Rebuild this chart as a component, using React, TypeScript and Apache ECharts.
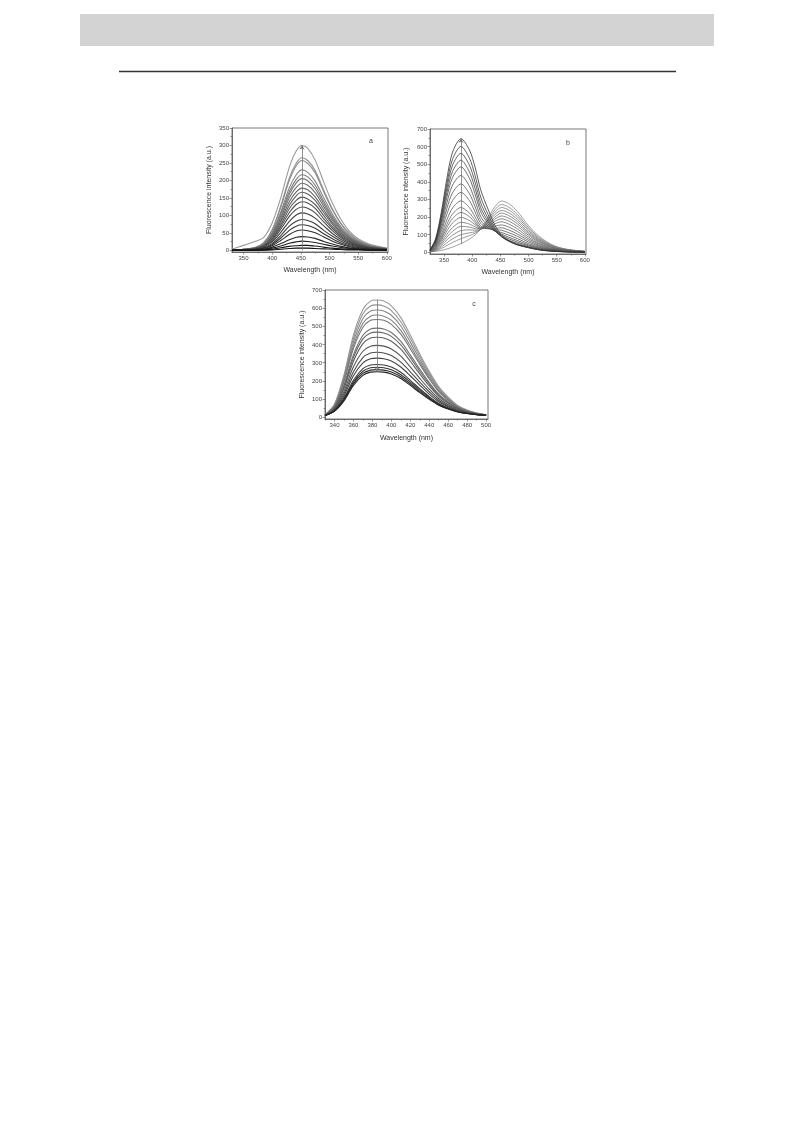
import React, { useEffect, useRef } from "react";
import * as echarts from "echarts";

const FONT = "'Liberation Sans', Arial, sans-serif";

// ---------- Panel a ----------
const aX = [330, 350, 370, 385, 400, 415, 430, 442, 452, 462, 475, 490, 505, 520, 535, 550, 570, 600];
const aCurves = [
  [3, 14, 25, 36, 78, 150, 238, 284, 300, 292, 258, 195, 135, 88, 54, 33, 17, 6],
  [1, 3, 8, 21, 58, 127, 207, 249, 265, 257, 228, 172, 119, 77, 48, 29, 15, 5],
  [1, 3, 8, 21, 57, 123, 200, 242, 257, 249, 221, 167, 116, 75, 46, 28, 14, 5],
  [1, 3, 7, 18, 51, 110, 179, 216, 230, 223, 198, 150, 104, 67, 41, 25, 13, 5],
  [1, 3, 6, 17, 48, 104, 168, 203, 216, 210, 186, 140, 97, 63, 39, 24, 12, 4],
  [1, 2, 6, 16, 45, 98, 160, 193, 205, 199, 176, 133, 92, 59, 37, 23, 11, 4],
  [1, 2, 6, 15, 42, 92, 150, 180, 192, 186, 165, 125, 86, 56, 35, 21, 11, 4],
  [1, 2, 5, 14, 39, 85, 139, 167, 178, 173, 153, 116, 80, 52, 32, 20, 10, 4],
  [1, 2, 5, 13, 37, 80, 129, 156, 166, 161, 143, 108, 75, 48, 30, 18, 9, 3],
  [1, 2, 5, 12, 33, 73, 119, 143, 152, 147, 131, 99, 68, 44, 27, 17, 8, 3],
  [1, 2, 4, 11, 31, 67, 108, 131, 139, 135, 120, 90, 63, 40, 25, 15, 8, 3],
  [1, 1, 4, 10, 27, 60, 97, 117, 124, 120, 107, 81, 56, 36, 22, 14, 7, 2],
  [1, 1, 3, 9, 24, 51, 83, 101, 107, 104, 92, 70, 48, 31, 19, 12, 6, 2],
  [0, 1, 3, 7, 19, 42, 69, 83, 88, 85, 76, 57, 40, 26, 16, 10, 5, 2],
  [0, 1, 2, 6, 16, 35, 57, 69, 73, 71, 63, 47, 33, 21, 13, 8, 4, 1],
  [0, 1, 2, 5, 13, 28, 45, 55, 58, 56, 50, 38, 26, 17, 10, 6, 3, 1],
  [0, 0, 1, 3, 9, 19, 30, 37, 39, 38, 34, 25, 18, 11, 7, 4, 2, 1],
  [0, 0, 1, 2, 6, 12, 20, 24, 26, 25, 22, 17, 12, 8, 5, 3, 1, 1],
  [0, 0, 0, 1, 3, 7, 11, 13, 14, 14, 12, 9, 6, 4, 3, 2, 1, 0],
  [0, 0, 0, 0, 1, 3, 5, 6, 6, 6, 5, 4, 3, 2, 1, 1, 0, 0],
];
const aXLabels = [350, 400, 450, 500, 550, 600];
const aXMinor = [375, 425, 475, 525, 575];
const aYLabels = [0, 50, 100, 150, 200, 250, 300, 350];
const aYMinor = [25, 75, 125, 175, 225, 275, 325];
const aArrow = [[452, 0], [452, 300]];

// ---------- Panel b ----------
const bX = [325, 335, 345, 355, 365, 380, 395, 405, 415, 428, 440, 452, 465, 480, 500, 520, 545, 570, 600];
const bCurves = [
  [2, 5, 10, 19, 29, 49, 74, 98, 131, 194, 257, 291, 276, 232, 151, 87, 38, 16, 6],
  [2, 8, 21, 38, 55, 77, 94, 108, 130, 184, 240, 271, 256, 215, 140, 81, 35, 15, 5],
  [3, 11, 29, 54, 76, 100, 110, 116, 130, 176, 226, 254, 240, 202, 131, 75, 33, 14, 5],
  [3, 14, 38, 70, 97, 123, 127, 125, 130, 169, 213, 237, 224, 188, 122, 70, 30, 13, 5],
  [4, 17, 46, 86, 119, 147, 143, 134, 131, 162, 200, 222, 208, 175, 113, 65, 28, 12, 4],
  [4, 20, 55, 102, 140, 170, 160, 144, 132, 155, 188, 206, 193, 162, 105, 60, 26, 11, 4],
  [5, 23, 65, 121, 166, 198, 181, 156, 135, 149, 175, 190, 177, 148, 96, 55, 24, 10, 4],
  [5, 27, 75, 140, 191, 226, 202, 168, 137, 142, 161, 173, 160, 133, 86, 49, 21, 9, 3],
  [6, 30, 86, 159, 217, 254, 223, 181, 141, 136, 148, 155, 143, 118, 76, 44, 18, 8, 3],
  [6, 35, 99, 184, 251, 292, 253, 201, 149, 133, 136, 139, 126, 104, 67, 38, 16, 7, 2],
  [7, 40, 117, 217, 294, 340, 293, 229, 164, 135, 128, 125, 111, 91, 58, 33, 14, 6, 2],
  [8, 46, 134, 249, 338, 388, 333, 259, 181, 140, 122, 112, 97, 78, 49, 28, 12, 5, 2],
  [9, 52, 151, 281, 381, 436, 375, 293, 203, 149, 120, 103, 85, 67, 42, 24, 10, 4, 1],
  [10, 58, 169, 313, 424, 485, 420, 331, 230, 163, 121, 96, 76, 58, 36, 20, 8, 3, 1],
  [11, 63, 182, 339, 459, 523, 456, 363, 253, 176, 122, 90, 68, 50, 31, 17, 7, 3, 1],
  [11, 67, 196, 364, 494, 562, 494, 398, 281, 193, 128, 88, 64, 45, 28, 15, 6, 2, 0],
  [12, 72, 210, 390, 528, 601, 534, 436, 313, 215, 138, 90, 62, 42, 26, 13, 5, 2, 0],
  [13, 77, 226, 419, 568, 645, 581, 484, 355, 245, 155, 97, 65, 42, 26, 13, 5, 2, 0],
];
const bXLabels = [350, 400, 450, 500, 550, 600];
const bXMinor = [375, 425, 475, 525, 575];
const bYLabels = [0, 100, 200, 300, 400, 500, 600, 700];
const bYMinor = [50, 150, 250, 350, 450, 550, 650];
const bArrow = [[380, 48], [380, 645]];

// ---------- Panel c ----------
const cX = [330, 340, 350, 360, 370, 378, 385, 392, 400, 410, 420, 430, 440, 450, 460, 470, 480, 490, 500];
const cCurves = [
  [13, 71, 232, 452, 593, 639, 645, 639, 613, 548, 452, 348, 252, 168, 110, 65, 39, 23, 13],
  [12, 68, 222, 433, 569, 612, 618, 612, 587, 525, 433, 334, 241, 161, 105, 62, 37, 22, 13],
  [12, 65, 212, 413, 543, 584, 590, 584, 561, 502, 413, 319, 230, 153, 100, 59, 36, 21, 13],
  [12, 62, 202, 393, 517, 556, 562, 556, 534, 478, 393, 303, 219, 146, 96, 57, 35, 21, 13],
  [11, 60, 194, 377, 495, 533, 538, 533, 511, 457, 377, 291, 210, 140, 92, 55, 34, 20, 12],
  [11, 55, 176, 343, 451, 485, 490, 485, 466, 417, 343, 265, 191, 127, 84, 51, 31, 19, 12],
  [11, 53, 168, 328, 431, 463, 468, 463, 445, 398, 328, 253, 183, 122, 80, 49, 30, 19, 12],
  [10, 50, 158, 308, 405, 436, 440, 436, 418, 374, 308, 238, 172, 115, 76, 46, 29, 18, 12],
  [10, 46, 142, 277, 363, 391, 395, 391, 375, 336, 277, 214, 154, 103, 68, 42, 27, 17, 12],
  [10, 42, 129, 250, 328, 353, 357, 353, 339, 303, 250, 193, 140, 93, 62, 38, 25, 16, 11],
  [10, 39, 117, 228, 299, 322, 325, 322, 309, 276, 228, 176, 127, 85, 57, 35, 23, 16, 11],
  [9, 36, 105, 203, 267, 287, 290, 287, 276, 247, 203, 157, 113, 76, 51, 32, 22, 15, 11],
  [9, 35, 99, 193, 253, 272, 275, 272, 261, 234, 193, 149, 108, 72, 49, 31, 21, 15, 11],
  [9, 34, 95, 184, 241, 259, 262, 259, 249, 223, 184, 142, 103, 69, 47, 30, 20, 14, 11],
  [9, 33, 90, 175, 230, 248, 250, 248, 238, 213, 175, 135, 98, 66, 45, 29, 20, 14, 11],
];
const cXLabels = [340, 360, 380, 400, 420, 440, 460, 480, 500];
const cXMinor = [330, 350, 370, 390, 410, 430, 450, 470, 490];
const cYLabels = [0, 100, 200, 300, 400, 500, 600, 700];
const cYMinor = [50, 150, 250, 350, 450, 550, 650];
const cArrow = [[385, 645], [385, 250]];

const panelLetters = ["a", "b", "c"];
const xName = "Wavelength (nm)";
const yName = "Fluorescence intensity (a.u.)";

const AX = "#555";

function mainX(grid: number, min: number, max: number, labels: number[], gap: number) {
  return {
    type: "value", gridIndex: grid, min, max, position: "bottom",
    name: xName, nameLocation: "middle", nameGap: gap,
    nameTextStyle: { fontSize: 7, color: "#333", fontFamily: FONT },
    axisLine: { show: true, onZero: false, lineStyle: { color: AX, width: 0.8 } },
    axisTick: { show: true, customValues: labels, length: 2.5, lineStyle: { color: AX, width: 0.6 } },
    axisLabel: { show: true, customValues: labels, fontSize: 6, color: "#444", margin: 3, fontFamily: FONT },
    splitLine: { show: false },
  };
}
function mainY(grid: number, min: number, max: number, labels: number[], gap: number) {
  return {
    type: "value", gridIndex: grid, min, max, position: "left",
    name: yName, nameLocation: "middle", nameGap: gap, nameRotate: 90,
    nameTextStyle: { fontSize: 7, color: "#333", fontFamily: FONT },
    axisLine: { show: true, onZero: false, lineStyle: { color: AX, width: 0.8 } },
    axisTick: { show: true, customValues: labels, length: 2.5, lineStyle: { color: AX, width: 0.6 } },
    axisLabel: { show: true, customValues: labels, fontSize: 6, color: "#444", margin: 3, fontFamily: FONT },
    splitLine: { show: false },
  };
}
function minorX(grid: number, min: number, max: number, ticks: number[]) {
  return {
    type: "value", gridIndex: grid, min, max, position: "bottom",
    axisLine: { show: false, onZero: false },
    axisTick: { show: true, customValues: ticks, length: 1.5, lineStyle: { color: AX, width: 0.6 } },
    axisLabel: { show: false }, splitLine: { show: false },
  };
}
function minorY(grid: number, min: number, max: number, ticks: number[]) {
  return {
    type: "value", gridIndex: grid, min, max, position: "left",
    axisLine: { show: false, onZero: false },
    axisTick: { show: true, customValues: ticks, length: 1.5, lineStyle: { color: AX, width: 0.6 } },
    axisLabel: { show: false }, splitLine: { show: false },
  };
}

function grayAt(i: number, n: number, from: number, to: number) {
  const t = n > 1 ? i / (n - 1) : 0;
  const v = Math.round(from + (to - from) * t);
  const h = v.toString(16).padStart(2, "0");
  return "#" + h + h + h;
}

function buildSeries(
  xs: number[], curves: number[][], axis: number, arrow: number[][],
  cFrom: number, cTo: number, width: number
) {
  return curves.map((vals, i) => {
    const s: any = {
      type: "line",
      xAxisIndex: axis, yAxisIndex: axis,
      data: xs.map((x, k) => [x, vals[k]]),
      showSymbol: false, symbol: "none", smooth: 0.3, silent: true,
      lineStyle: { color: grayAt(i, curves.length, cFrom, cTo), width },
      emphasis: { disabled: true },
    };
    if (i === 0) {
      s.markLine = {
        silent: true, symbol: ["none", "arrow"], symbolSize: 4,
        label: { show: false },
        lineStyle: { color: "#777", width: 0.8, type: "solid" },
        data: [[{ coord: arrow[0] }, { coord: arrow[1] }]],
      };
    }
    return s;
  });
}

export default function App() {
  const ref = useRef<HTMLDivElement>(null);
  useEffect(() => {
    if (!ref.current) return;
    const chart = echarts.init(ref.current, undefined, { renderer: "svg" });
    const option: any = {
      animation: false,
      backgroundColor: "#ffffff",
      grid: [
        { left: 232, top: 128, width: 156, height: 124, show: true, borderColor: AX, borderWidth: 0.8, backgroundColor: "transparent" },
        { left: 430, top: 129, width: 156, height: 125, show: true, borderColor: AX, borderWidth: 0.8, backgroundColor: "transparent" },
        { left: 325, top: 290, width: 163, height: 129, show: true, borderColor: AX, borderWidth: 0.8, backgroundColor: "transparent" },
      ],
      xAxis: [
        mainX(0, 330, 602, aXLabels, 14),
        mainX(1, 325, 602, bXLabels, 14),
        mainX(2, 330, 502, cXLabels, 15),
        minorX(0, 330, 602, aXMinor),
        minorX(1, 325, 602, bXMinor),
        minorX(2, 330, 502, cXMinor),
      ],
      yAxis: [
        mainY(0, -5, 350, aYLabels, 20),
        mainY(1, -10, 700, bYLabels, 21),
        mainY(2, -10, 700, cYLabels, 20),
        minorY(0, -5, 350, aYMinor),
        minorY(1, -10, 700, bYMinor),
        minorY(2, -10, 700, cYMinor),
      ],
      series: [
        ...buildSeries(aX, aCurves, 0, aArrow, 0x99, 0x11, 1.1),
        ...buildSeries(bX, bCurves, 1, bArrow, 0x88, 0x33, 0.8),
        ...buildSeries(cX, cCurves, 2, cArrow, 0x99, 0x22, 1.1),
      ],
      graphic: [
        { type: "rect", shape: { x: 80, y: 14, width: 634, height: 32 }, style: { fill: "#d3d3d3" }, silent: true },
        { type: "line", shape: { x1: 119, y1: 71.5, x2: 676, y2: 71.5 }, style: { stroke: "#333", lineWidth: 1.3 }, silent: true },
        { type: "text", x: 371, y: 140, style: { text: panelLetters[0], fontSize: 7, fill: "#444", fontFamily: FONT, align: "center", verticalAlign: "middle" } },
        { type: "text", x: 568, y: 142, style: { text: panelLetters[1], fontSize: 7, fill: "#444", fontFamily: FONT, align: "center", verticalAlign: "middle" } },
        { type: "text", x: 474, y: 303, style: { text: panelLetters[2], fontSize: 7, fill: "#444", fontFamily: FONT, align: "center", verticalAlign: "middle" } },
      ],
    };
    chart.setOption(option);
    return () => chart.dispose();
  }, []);
  return (
    <div
      ref={ref}
      style={{ position: "absolute", left: 0, top: 0, width: 793, height: 1121, background: "#fff", filter: "grayscale(100%)" }}
    />
  );
}
